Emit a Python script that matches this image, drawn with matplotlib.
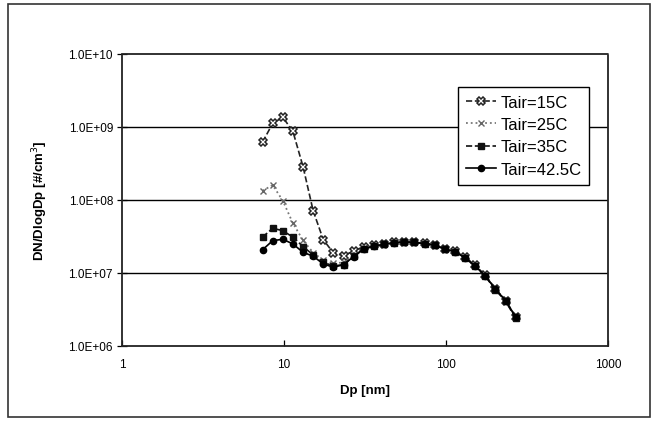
import matplotlib.pyplot as plt
from matplotlib.patches import Rectangle
from matplotlib.ticker import FixedLocator, FuncFormatter, NullLocator

plt.rcParams['font.family'] = ['Liberation Sans', 'DejaVu Sans']

# particle diameter channels [nm]
dp = [7.37, 8.51, 9.83, 11.35, 13.11, 15.14, 17.48, 20.19, 23.31, 26.92,
      31.09, 35.89, 41.45, 47.87, 55.27, 63.83, 73.7, 85.1, 98.3, 113.5,
      131.1, 151.4, 174.8, 201.9, 233.1, 269.2]

# shared tail of the distributions (i >= 10)
tail = [2.2e7, 2.37e7, 2.5e7, 2.62e7, 2.68e7, 2.64e7, 2.55e7, 2.42e7, 2.15e7,
        1.98e7, 1.64e7, 1.26e7, 9.2e6, 6.0e6, 4.2e6, 2.5e6]

t15 = [6.2e8, 1.12e9, 1.36e9, 8.7e8, 2.86e8, 7.1e7, 2.86e7, 1.88e7, 1.73e7,
       2.0e7] + [2.3e7, 2.4e7, 2.52e7, 2.63e7, 2.68e7, 2.64e7, 2.56e7, 2.43e7,
                 2.16e7, 1.99e7, 1.65e7, 1.27e7, 9.3e6, 6.1e6, 4.2e6, 2.5e6]
t25 = [1.34e8, 1.6e8, 9.8e7, 4.8e7, 2.8e7, 1.9e7, 1.5e7, 1.35e7, 1.4e7,
       1.75e7] + tail
t35 = [3.1e7, 4.1e7, 3.8e7, 3.1e7, 2.3e7, 1.77e7, 1.4e7, 1.25e7, 1.3e7,
       1.7e7] + [2.15e7, 2.35e7, 2.48e7, 2.6e7, 2.66e7, 2.62e7, 2.53e7, 2.4e7,
                 2.13e7, 1.96e7, 1.62e7, 1.24e7, 9.0e6, 5.9e6, 4.1e6, 2.4e6]
t42 = [2.08e7, 2.77e7, 2.9e7, 2.5e7, 1.92e7, 1.7e7, 1.33e7, 1.2e7, 1.3e7,
       1.68e7] + [2.12e7, 2.33e7, 2.47e7, 2.6e7, 2.66e7, 2.62e7, 2.53e7, 2.4e7,
                  2.12e7, 1.95e7, 1.62e7, 1.25e7, 9.1e6, 6.0e6, 4.2e6, 2.5e6]

labels = ['Tair=15C', 'Tair=25C', 'Tair=35C', 'Tair=42.5C']
yticks = [1e6, 1e7, 1e8, 1e9, 1e10]
xticks = [1, 10, 100, 1000]

fig = plt.figure(figsize=(6.57, 4.27), dpi=100)
fig.patches.append(Rectangle((8 / 657, 9 / 427), 642 / 657, 413 / 427,
                             transform=fig.transFigure, fill=False,
                             edgecolor='#333333', lw=1.2))
ax = fig.add_axes([122 / 657, 80 / 427, 486 / 657, 292 / 427])

ax.plot(dp, t15, color='#222222', ls='--', lw=1.2, marker='X', ms=5.5,
        mfc='white', mec='#222222', mew=1.1, label=labels[0])
ax.plot(dp, t25, color='#777777', ls=':', lw=1.3, marker='x', ms=5,
        mec='#666666', mew=1.0, label=labels[1])
ax.plot(dp, t35, color='#111111', ls='--', lw=1.2, marker='s', ms=4,
        mfc='#111111', mec='#111111', label=labels[2])
ax.plot(dp, t42, color='#000000', ls='-', lw=1.2, marker='o', ms=4.5,
        mfc='#000000', mec='#000000', label=labels[3])

ax.set_xscale('log')
ax.set_yscale('log')
ax.set_xlim(1, 1000)
ax.set_ylim(1e6, 1e10)

ax.yaxis.set_major_locator(FixedLocator(yticks))
ax.yaxis.set_minor_locator(NullLocator())
ax.xaxis.set_major_locator(FixedLocator(xticks))
ax.xaxis.set_minor_locator(NullLocator())
ax.yaxis.set_major_formatter(FuncFormatter(lambda v, p: '{:.1E}'.format(v)))
ax.xaxis.set_major_formatter(FuncFormatter(lambda v, p: '%d' % v))

for v in yticks[1:-1]:
    ax.axhline(v, color='black', lw=1.0, zorder=0)

for s in ax.spines.values():
    s.set_linestyle((0, (1, 1)))
    s.set_linewidth(1.3)
    s.set_color('#222222')

ax.tick_params(axis='y', direction='inout', length=7, width=0.9,
               labelsize=8.5, pad=3)
ax.tick_params(axis='x', direction='in', length=4, width=0.9,
               labelsize=8.5, pad=9)

ax.set_xlabel('Dp [nm]', fontsize=9.5, fontweight='bold', labelpad=10)
ax.set_ylabel('DN/DlogDp [#/cm$^3$]', fontsize=9.5, fontweight='bold',
              labelpad=13)

leg = ax.legend(loc='upper left', bbox_to_anchor=(336 / 486, 1 - 33 / 292),
                fontsize=12, frameon=True, fancybox=False, framealpha=1,
                edgecolor='black', borderpad=0.45, labelspacing=0.45,
                handlelength=1.8, handletextpad=0.3, borderaxespad=0)
leg.get_frame().set_linewidth(1.0)

fig.savefig('out.png', dpi=100)
